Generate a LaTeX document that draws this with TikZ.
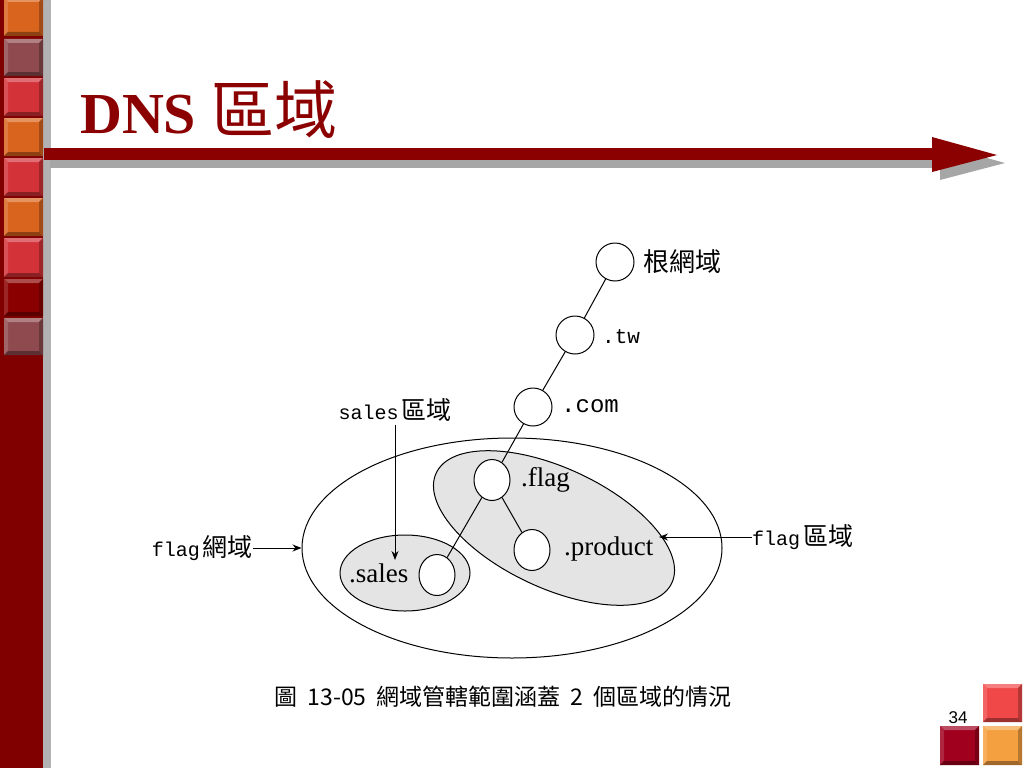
\documentclass[tikz,border=0pt]{standalone}
\usepackage{fontspec}
\setmainfont{Liberation Serif}
\newfontfamily\cjk{Noto Sans CJK TC}
\newfontfamily\mono{Liberation Mono}
\newfontfamily\sansf{Liberation Sans}
\usetikzlibrary{shapes.geometric,arrows.meta}
\definecolor{dred}{HTML}{800000}
\definecolor{tred}{HTML}{8B0000}
\definecolor{sqor}{HTML}{D8641E}
\definecolor{sqmv}{HTML}{8E4A4E}
\definecolor{sqrd}{HTML}{D23238}
\definecolor{sqdk}{HTML}{8A0000}
\definecolor{brpk}{HTML}{F04848}
\definecolor{brdk}{HTML}{A0001E}
\definecolor{bror}{HTML}{F5A040}
\definecolor{zonegray}{HTML}{E4E4E4}
\newcommand\bevsq[5]{%
  \fill[#5] (#1,#2) rectangle (#1+#3,#2+#4);
  \fill[#5!70!white] (#1,#2) -- (#1+#3,#2) -- (#1+#3-4,#2+4) -- (#1+4,#2+4) -- cycle;
  \fill[#5!85!white] (#1,#2) -- (#1+4,#2+4) -- (#1+4,#2+#4-4) -- (#1,#2+#4) -- cycle;
  \fill[#5!75!black] (#1+#3,#2) -- (#1+#3,#2+#4) -- (#1+#3-4,#2+#4-4) -- (#1+#3-4,#2+4) -- cycle;
  \fill[#5!65!black] (#1,#2+#4) -- (#1+#3,#2+#4) -- (#1+#3-4,#2+#4-4) -- (#1+4,#2+#4-4) -- cycle;
}
\tikzset{
  dot/.style={ellipse, draw, line width=1pt, fill=white, minimum width=38pt, minimum height=38pt, inner sep=0pt},
  tdot/.style={ellipse, draw, line width=1pt, fill=white, minimum width=36pt, minimum height=41pt, inner sep=0pt},
  zone/.style={ellipse, draw, line width=1pt, fill=zonegray, inner sep=0pt},
  link/.style={line width=1pt},
  pointer/.style={line width=1pt, -{Stealth[length=9pt,width=7pt]}},
  cj/.style={font=\cjk\fontsize{26}{28}\selectfont, inner sep=0pt},
  mn/.style={font=\mono\fontsize{21}{23}\selectfont, inner sep=0pt},
  sr/.style={font=\fontsize{27}{29}\selectfont, inner sep=0pt},
}
\begin{document}
\begin{tikzpicture}[x=1pt,y=-1pt]
\useasboundingbox (0,0) rectangle (1024,768);
\fill[white] (0,0) rectangle (1024,768);
% left bar
\fill[dred] (0,0) rectangle (43,768);
\fill[black!30] (43,0) rectangle (51,768);
\bevsq{4}{-2}{39}{38}{sqor}
\bevsq{4}{39}{39}{37}{sqmv}
\bevsq{4}{78}{39}{38}{sqrd}
\bevsq{4}{118}{39}{38}{sqor}
\bevsq{4}{158}{39}{38}{sqrd}
\bevsq{4}{198}{39}{38}{sqor}
\bevsq{4}{238}{39}{39}{sqrd}
\bevsq{4}{279}{39}{37}{sqdk}
\bevsq{4}{318}{39}{37}{sqmv}
% title arrow
\fill[black!35] (50,160) rectangle (940,168);
\fill[black!35] (940,145) -- (1005,163) -- (940,180) -- cycle;
\fill[tred] (44,148) rectangle (934,160);
\fill[tred] (932,137) -- (997,155) -- (932,172) -- cycle;
\node[anchor=base west, inner sep=0pt, text=tred] (title) at (80,133) {{\fontsize{58}{60}\selectfont\bfseries DNS}\hspace{15pt}{\cjk\fontsize{63}{65}\selectfont 區域}};
% bottom right squares
\bevsq{983}{684}{39}{38}{brpk}
\bevsq{940}{726}{39}{39}{brdk}
\bevsq{983}{726}{39}{39}{bror}
\node[font=\sansf\fontsize{17}{18}\selectfont, inner sep=0pt] (pnum) at (958,718) {34};
% zones
\node[ellipse, draw, line width=1pt, minimum width=420pt, minimum height=220pt, inner sep=0pt] (outer) at (512,548) {};
\node[zone, minimum width=260pt, minimum height=120pt, rotate=-25] (flagzone) at (554,528) {};
\node[zone, minimum width=130pt, minimum height=76pt] (saleszone) at (405,573) {};
% tree nodes
\node[dot] (root) at (615,262) {};
\node[dot] (tw) at (575,335) {};
\node[dot] (com) at (533,407) {};
\node[tdot] (flag) at (492,480) {};
\node[tdot] (product) at (532,550) {};
\node[tdot] (sales) at (437,575) {};
\draw[link] (root) -- (tw);
\draw[link] (tw) -- (com);
\draw[link] (com) -- (flag);
\draw[link] (flag) -- (product);
\draw[link] (flag) -- (sales);
% labels
\node[cj, anchor=west] (lroot) at (643,262) {根網域};
\node[mn, anchor=west] (ltw) at (602,337) {.tw};
\node[mn, anchor=west, font=\mono\fontsize{24}{26}\selectfont] (lcom) at (561,406) {.com};
\node[sr, anchor=west] (lflag) at (521,480) {.flag};
\node[sr, anchor=west] (lproduct) at (564,549) {.product};
\node[sr, anchor=west] (lsales) at (349,573) {.sales};
% pointer labels
\node[inner sep=0pt] (salesz) at (395,410) {{\mono\fontsize{20}{22}\selectfont sales}\hspace{3pt}{\cjk\fontsize{25}{27}\selectfont 區域}};
\coordinate (salesend) at (395,560);
\path (salesz.south) ++(0,3) coordinate (salesstart);
\draw[pointer] (salesstart) -- (salesend);
\node[inner sep=0pt, anchor=east] (flagnet) at (253,548) {{\mono\fontsize{20}{22}\selectfont flag}\hspace{3pt}{\cjk\fontsize{25}{27}\selectfont 網域}};
\draw[pointer] (flagnet.east) -- (outer.west);
\node[inner sep=0pt, anchor=west] (flagarea) at (752,537) {{\mono\fontsize{20}{22}\selectfont flag}\hspace{3pt}{\cjk\fontsize{25}{27}\selectfont 區域}};
\coordinate (flagend) at (659,537);
\draw[pointer] (flagarea.west) -- (flagend);
% caption
\node[inner sep=0pt, font=\cjk\fontsize{23}{25}\selectfont] (caption) at (503,697) {圖\hspace{10pt}13-05\hspace{10pt}網域管轄範圍涵蓋\hspace{10pt}2\hspace{10pt}個區域的情況};
\end{tikzpicture}
\end{document}
